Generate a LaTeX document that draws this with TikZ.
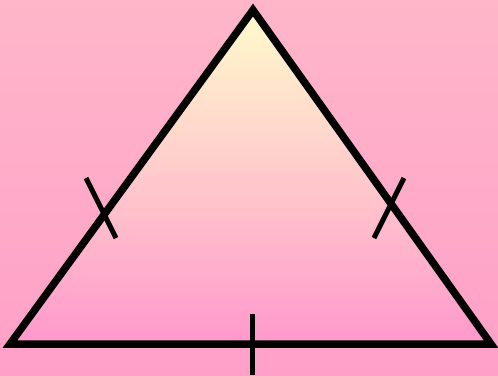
\documentclass[tikz,border=0pt]{standalone}
\usetikzlibrary{calc}
\definecolor{bgtop}{RGB}{255,182,201}
\definecolor{bgbot}{RGB}{255,160,200}
\definecolor{tritop}{RGB}{255,251,204}
\definecolor{tribot}{RGB}{255,152,204}
\tikzset{
  side/.style={line width=7.5pt, line join=miter, black},
  tick/.style={line width=5pt, black},
}
\begin{document}
\begin{tikzpicture}[x=1pt,y=-1pt]
\shade[top color=bgtop, bottom color=bgbot] (0,0) rectangle (498,375);
\useasboundingbox (0,0) rectangle (498,375);
\coordinate (A) at (253,10);
\coordinate (B) at (10,344);
\coordinate (C) at (491,344);
\shade[top color=tritop, bottom color=tribot] (A) -- (B) -- (C) -- cycle;
\draw[side] (A) -- (B) -- (C) -- cycle;
\coordinate (t1a) at (86,178);
\coordinate (t1b) at (116,238);
\coordinate (t2a) at (404,178);
\coordinate (t2b) at (374,238);
\coordinate (t3a) at (252,314);
\coordinate (t3b) at (252,375);
\draw[tick] (t1a) -- (t1b);
\draw[tick] (t2a) -- (t2b);
\draw[tick] (t3a) -- (t3b);
\end{tikzpicture}
\end{document}
